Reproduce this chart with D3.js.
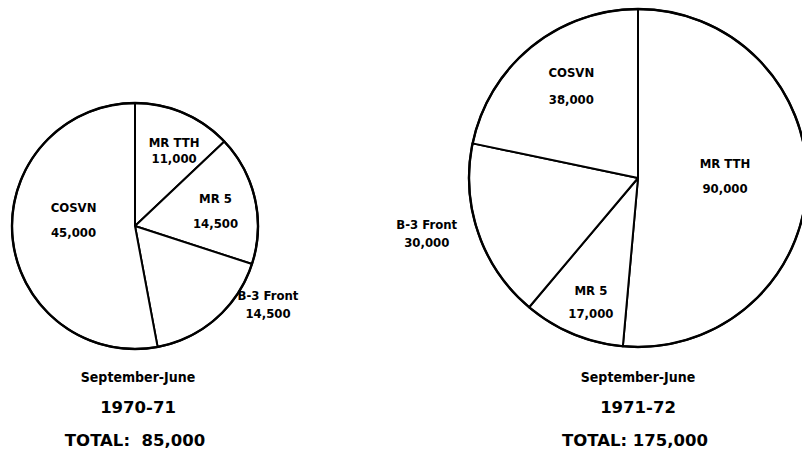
<!DOCTYPE html>
<html>
<head>
<meta charset="utf-8">
<script src="https://cdn.jsdelivr.net/npm/d3@7"></script>
<style>
  html, body { margin: 0; padding: 0; background: #fff; }
  svg { display: block; }
  .lbl { font-family: "DejaVu Sans Condensed", "DejaVu Sans", sans-serif; font-stretch: condensed; font-weight: bold; font-size: 13px; fill: #000; }
  .sub { font-family: "DejaVu Sans Condensed", "DejaVu Sans", sans-serif; font-stretch: condensed; font-weight: bold; font-size: 14px; fill: #000; }
  .big { font-family: "DejaVu Sans", sans-serif; font-weight: bold; font-size: 16.5px; fill: #000; white-space: pre; }
</style>
</head>
<body>
<script>
// ---- DATA ----
const categories = ["MR TTH", "MR 5", "B-3 Front", "COSVN"];
const values1970 = [11000, 14500, 14500, 45000];
const values1971 = [90000, 17000, 30000, 38000];
const periodLabel = "September-June";
const yearLabels = ["1970-71", "1971-72"];
const totalLabels = ["TOTAL:  85,000", "TOTAL: 175,000"];

// ---- LAYOUT (not data) ----
const W = 802, H = 452;
const pies = [
  { values: values1970, cx: 135, cy: 226, r: 123, textX: 138, year: yearLabels[0], total: totalLabels[0],
    place: { "MR TTH": [5.5, 0.66, 16], "MR 5": [5.2, 0.66, 25], "B-3 Front": [-16.7, 1.275, 18], "COSVN": [6.7, 0.50, 25] } },
  { values: values1971, cx: 638, cy: 178, r: 169, textX: 638, year: yearLabels[1], total: totalLabels[1],
    place: { "MR TTH": [-1, 0.515, 25], "MR 5": [-2.5, 0.81, 23], "B-3 Front": [3.1, 1.30, 18], "COSVN": [1.7, 0.65, 27] } }
];

const svg = d3.select("body").append("svg").attr("width", W).attr("height", H);
const fmt = d3.format(",");
const pie = d3.pie().sort(null).value(d => d.v);

pies.forEach(p => {
  const data = categories.map((c, i) => ({ cat: c, v: p.values[i] }));
  const arcs = pie(data);
  const arc = d3.arc().innerRadius(0).outerRadius(p.r);
  const g = svg.append("g").attr("transform", `translate(${p.cx},${p.cy})`);

  g.selectAll("path.slice").data(arcs).join("path")
    .attr("class", "slice")
    .attr("d", arc)
    .attr("fill", "#fff")
    .attr("stroke", "#000")
    .attr("stroke-width", 2)
    .attr("stroke-linejoin", "round");

  g.append("circle").attr("r", p.r).attr("fill", "none").attr("stroke", "#000").attr("stroke-width", 2.4);

  const lg = g.selectAll("g.lab").data(arcs).join("g").attr("class", "lab")
    .attr("transform", d => {
      const pl = p.place[d.data.cat];
      const a = (d.startAngle + d.endAngle) / 2 + pl[0] * Math.PI / 180;
      const rr = pl[1] * p.r;
      const c = d3.arc().innerRadius(rr).outerRadius(rr).centroid({ startAngle: a, endAngle: a });
      return `translate(${c[0]},${c[1]})`;
    });
  lg.append("text").attr("class", "lbl").attr("text-anchor", "middle")
    .attr("y", d => -p.place[d.data.cat][2] / 2)
    .text(d => d.data.cat);
  lg.append("text").attr("class", "lbl").attr("text-anchor", "middle")
    .attr("y", d => p.place[d.data.cat][2] / 2)
    .text(d => fmt(d.data.v));

  svg.append("text").attr("class", "sub").attr("text-anchor", "middle")
    .attr("x", p.textX).attr("y", 382).text(periodLabel);
  svg.append("text").attr("class", "big").attr("text-anchor", "middle")
    .attr("x", p.textX).attr("y", 413).text(p.year);
  svg.append("text").attr("class", "big").attr("text-anchor", "middle")
    .attr("x", p.textX - 3).attr("y", 446).text(p.total);
});
</script>
</body>
</html>
